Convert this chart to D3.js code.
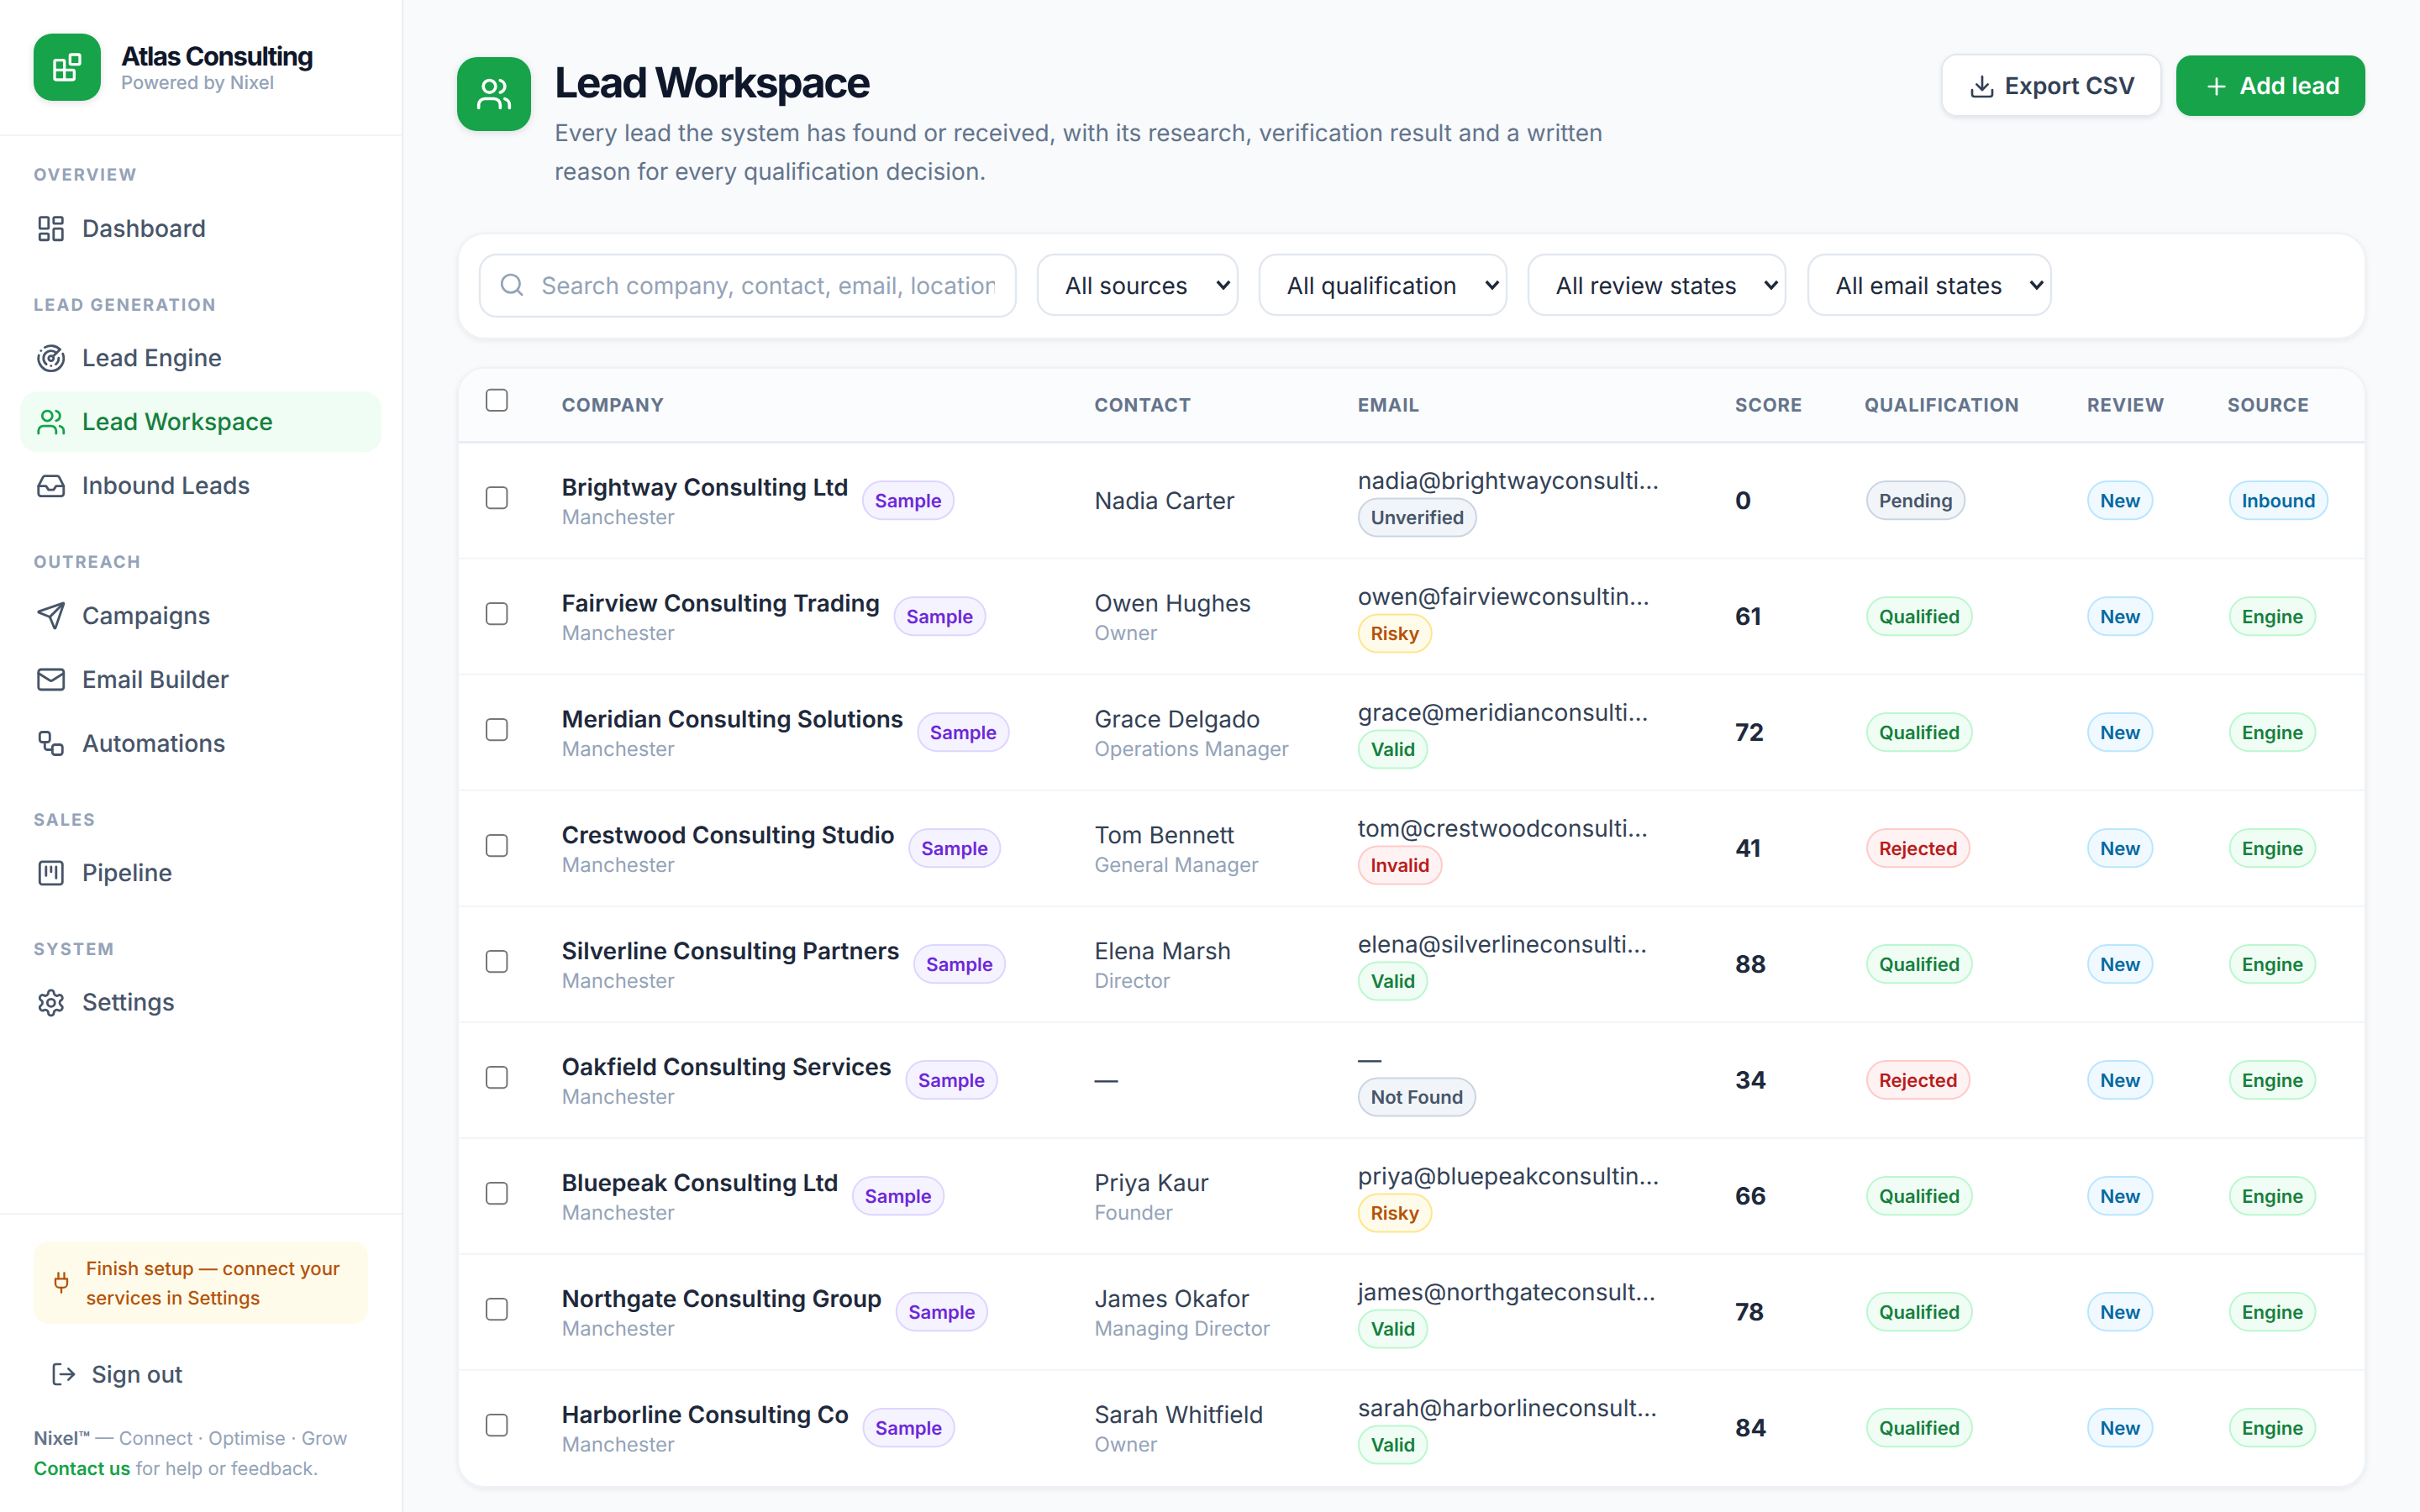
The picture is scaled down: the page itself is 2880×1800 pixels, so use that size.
<!DOCTYPE html>
<html><head><meta charset="utf-8"><title>Lead Workspace</title>
<script src="https://cdn.jsdelivr.net/npm/d3@7/dist/d3.min.js"></script>
<style>html,body{margin:0;padding:0;background:#f8fafc}svg{display:block;font-family:Inter,sans-serif;text-rendering:geometricPrecision}</style>
</head><body><svg id="app" width="2880" height="1800" viewBox="0 0 1440 900"></svg>
<script>
// ---------- data ----------
const companies=["Brightway Consulting Ltd","Fairview Consulting Trading","Meridian Consulting Solutions","Crestwood Consulting Studio","Silverline Consulting Partners","Oakfield Consulting Services","Bluepeak Consulting Ltd","Northgate Consulting Group","Harborline Consulting Co"];
const locations=["Manchester","Manchester","Manchester","Manchester","Manchester","Manchester","Manchester","Manchester","Manchester"];
const contactNames=["Nadia Carter","Owen Hughes","Grace Delgado","Tom Bennett","Elena Marsh","—","Priya Kaur","James Okafor","Sarah Whitfield"];
const contactRoles=["","Owner","Operations Manager","General Manager","Director","","Founder","Managing Director","Owner"];
const emails=["nadia@brightwayconsulti…","owen@fairviewconsultin…","grace@meridianconsulti…","tom@crestwoodconsulti…","elena@silverlineconsulti…","—","priya@bluepeakconsultin…","james@northgateconsult…","sarah@harborlineconsult…"];
const emailStates=["Unverified","Risky","Valid","Invalid","Valid","Not Found","Risky","Valid","Valid"];
const scores=[0,61,72,41,88,34,66,78,84];
const qualifications=["Pending","Qualified","Qualified","Rejected","Qualified","Rejected","Qualified","Qualified","Qualified"];
const reviews=["New","New","New","New","New","New","New","New","New"];
const sources=["Inbound","Engine","Engine","Engine","Engine","Engine","Engine","Engine","Engine"];
const headers=["COMPANY","CONTACT","EMAIL","SCORE","QUALIFICATION","REVIEW","SOURCE"];
const navSections=["OVERVIEW","LEAD GENERATION","OUTREACH","SALES","SYSTEM"];
const navItems=[["Dashboard"],["Lead Engine","Lead Workspace","Inbound Leads"],["Campaigns","Email Builder","Automations"],["Pipeline"],["Settings"]];
const filterLabels=["All sources","All qualification","All review states","All email states"];

// ---------- styles ----------
const tones={
 slate:{f:"#f1f5f9",b:"#cbd5e1",t:"#475569"},
 green:{f:"#f0fdf4",b:"#bbf7d0",t:"#15803d"},
 red:{f:"#fef2f2",b:"#fecaca",t:"#b91c1c"},
 blue:{f:"#f0f9ff",b:"#bae6fd",t:"#0369a1"},
 amber:{f:"#fffbeb",b:"#fde68a",t:"#b45309"},
 violet:{f:"#f5f3ff",b:"#ddd6fe",t:"#6d28d9"}};
const toneOf={Pending:"slate",Unverified:"slate","Not Found":"slate",Qualified:"green",Valid:"green",Engine:"green",Rejected:"red",Invalid:"red",New:"blue",Inbound:"blue",Risky:"amber",Sample:"violet"};
const icons={
 blocks:'<rect width="7" height="7" x="14" y="3" rx="1"/><path d="M10 21V8a1 1 0 0 0-1-1H4a1 1 0 0 0-1 1v12a1 1 0 0 0 1 1h12a1 1 0 0 0 1-1v-5a1 1 0 0 0-1-1H3"/>',
 Dashboard:'<rect width="7" height="9" x="3" y="3" rx="1"/><rect width="7" height="5" x="14" y="3" rx="1"/><rect width="7" height="9" x="14" y="12" rx="1"/><rect width="7" height="5" x="3" y="16" rx="1"/>',
 "Lead Engine":'<path d="M19.07 4.93A10 10 0 0 0 6.99 3.34"/><path d="M4 6h.01"/><path d="M2.29 9.62A10 10 0 1 0 21.31 8.35"/><path d="M16.24 7.76A6 6 0 1 0 8.23 16.67"/><path d="M12 18h.01"/><path d="M17.99 11.66A6 6 0 0 1 15.77 16.67"/><circle cx="12" cy="12" r="2"/><path d="m13.41 10.59 5.66-5.66"/>',
 "Lead Workspace":'<path d="M16 21v-2a4 4 0 0 0-4-4H6a4 4 0 0 0-4 4v2"/><circle cx="9" cy="7" r="4"/><path d="M22 21v-2a4 4 0 0 0-3-3.87"/><path d="M16 3.13a4 4 0 0 1 0 7.75"/>',
 "Inbound Leads":'<polyline points="22 12 16 12 14 15 10 15 8 12 2 12"/><path d="M5.45 5.11 2 12v6a2 2 0 0 0 2 2h16a2 2 0 0 0 2-2v-6l-3.45-6.89A2 2 0 0 0 16.76 4H7.24a2 2 0 0 0-1.79 1.11z"/>',
 Campaigns:'<path d="M14.536 21.686a.5.5 0 0 0 .937-.024l6.5-19a.496.496 0 0 0-.635-.635l-19 6.5a.5.5 0 0 0-.024.937l7.93 3.18a2 2 0 0 1 1.112 1.11z"/><path d="m21.854 2.147-10.94 10.939"/>',
 "Email Builder":'<rect width="20" height="16" x="2" y="4" rx="2"/><path d="m22 7-8.97 5.7a1.94 1.94 0 0 1-2.06 0L2 7"/>',
 Automations:'<rect width="8" height="8" x="3" y="3" rx="2"/><path d="M7 11v4a2 2 0 0 0 2 2h4"/><rect width="8" height="8" x="13" y="13" rx="2"/>',
 Pipeline:'<rect width="18" height="18" x="3" y="3" rx="2"/><path d="M8 7v7"/><path d="M12 7v4"/><path d="M16 7v9"/>',
 Settings:'<path d="M12.22 2h-.44a2 2 0 0 0-2 2v.18a2 2 0 0 1-1 1.73l-.43.25a2 2 0 0 1-2 0l-.15-.08a2 2 0 0 0-2.73.73l-.22.38a2 2 0 0 0 .73 2.73l.15.1a2 2 0 0 1 1 1.72v.51a2 2 0 0 1-1 1.74l-.15.09a2 2 0 0 0-.73 2.73l.22.38a2 2 0 0 0 2.73.73l.15-.08a2 2 0 0 1 2 0l.43.25a2 2 0 0 1 1 1.73V20a2 2 0 0 0 2 2h.44a2 2 0 0 0 2-2v-.18a2 2 0 0 1 1-1.73l.43-.25a2 2 0 0 1 2 0l.15.08a2 2 0 0 0 2.73-.73l.22-.39a2 2 0 0 0-.73-2.73l-.15-.08a2 2 0 0 1-1-1.74v-.5a2 2 0 0 1 1-1.74l.15-.09a2 2 0 0 0 .73-2.73l-.22-.38a2 2 0 0 0-2.73-.73l-.15.08a2 2 0 0 1-2 0l-.43-.25a2 2 0 0 1-1-1.73V4a2 2 0 0 0-2-2z"/><circle cx="12" cy="12" r="3"/>',
 plug:'<path d="M12 22v-5"/><path d="M9 8V2"/><path d="M15 8V2"/><path d="M18 8v5a4 4 0 0 1-4 4h-4a4 4 0 0 1-4-4V8Z"/>',
 logout:'<path d="M9 21H5a2 2 0 0 1-2-2V5a2 2 0 0 1 2-2h4"/><polyline points="16 17 21 12 16 7"/><line x1="21" x2="9" y1="12" y2="12"/>',
 search:'<circle cx="11" cy="11" r="8"/><path d="m21 21-4.3-4.3"/>',
 download:'<path d="M21 15v4a2 2 0 0 1-2 2H5a2 2 0 0 1-2-2v-4"/><polyline points="7 10 12 15 17 10"/><line x1="12" x2="12" y1="15" y2="3"/>',
 plus:'<path d="M5 12h14"/><path d="M12 5v14"/>'
};

// ---------- helpers ----------
const svg=d3.select("#app");
const defs=svg.append("defs");
function shadow(id,dy,blur,col,op){const f=defs.append("filter").attr("id",id).attr("x","-20%").attr("y","-20%").attr("width","140%").attr("height","150%");
 f.append("feDropShadow").attr("dx",0).attr("dy",dy).attr("stdDeviation",blur).attr("flood-color",col).attr("flood-opacity",op);}
shadow("sCard",1,1.5,"#0f172a",.07);shadow("sBtn",1,1.2,"#0f172a",.09);shadow("sLogo",1,2,"#0f172a",.12);
function T(p,x,y,s,o={}){const t=p.append("text").attr("x",x).attr("y",y).text(s).attr("font-size",o.size||14).attr("font-weight",o.weight||400).attr("fill",o.fill||"#334155");
 if(o.ls)t.attr("letter-spacing",o.ls);if(o.anchor)t.attr("text-anchor",o.anchor);return t;}
function R(p,x,y,w,h,r,f,s,sw){const e=p.append("rect").attr("x",x).attr("y",y).attr("width",w).attr("height",h).attr("rx",r).attr("fill",f);
 if(s)e.attr("stroke",s).attr("stroke-width",sw||1);return e;}
function icon(p,name,cx,cy,size,col,sw){const g=p.append("g").attr("transform",`translate(${cx-size/2},${cy-size/2}) scale(${size/24})`).attr("fill","none").attr("stroke",col).attr("stroke-width",sw||2).attr("stroke-linecap","round").attr("stroke-linejoin","round");g.html(icons[name]);return g;}
function pill(p,x,cy,label){const c=tones[toneOf[label]],g=p.append("g");
 const r=R(g,x+.5,cy-11.3,10,22.6,11.3,c.f,c.b,1);
 const t=T(g,x+7.7,cy+4,label,{size:11.05,weight:600,fill:c.t});
 const w=t.node().getComputedTextLength();r.attr("width",w+14.4);return w+15.4;}

// ---------- sidebar ----------
R(svg,0,0,240,900,0,"#ffffff");
svg.append("rect").attr("x",239).attr("y",0).attr("width",1).attr("height",900).attr("fill","#eaeff5");
svg.append("rect").attr("x",0).attr("y",80).attr("width",239).attr("height",1).attr("fill","#f1f5f9");
R(svg,20,20,40,40,11,"#16a34a").attr("filter","url(#sLogo)");
icon(svg,"blocks",40,40,20,"#fff",2);
T(svg,72,39.2,"Atlas Consulting",{size:15.5,weight:700,fill:"#0f172a",ls:"-0.045em"});
T(svg,72,53.2,"Powered by Nixel",{size:11,weight:500,fill:"#94a3b8"});
const navG=svg.append("g");
let yCursor=107.7;
navSections.forEach((sec,i)=>{
 T(navG,20,yCursor,sec,{size:10,weight:700,fill:"#94a3b8",ls:"0.1em"});
 let y=yCursor+33.2;
 navItems[i].forEach((it,j)=>{
  if(j)y+=38;
  const on=it==="Lead Workspace",col=on?"#15803d":"#475569";
  if(on)R(navG,12,y-23,215,36,10,"#f0fdf4");
  icon(navG,it,30.4,y-4.8,18,on?"#16a34a":"#475569",1.9);
  T(navG,48.9,y,it,{size:14.15,weight:500,fill:col});
 });
 yCursor=y+44;
});
svg.append("rect").attr("x",0).attr("y",722).attr("width",239).attr("height",1).attr("fill","#f1f5f9");
R(svg,20,739,199,49,9,"#fffbeb");
icon(svg,"plug",36.5,763.5,14,"#b45309",2);
T(svg,51.2,759.2,"Finish setup — connect your",{size:11.1,weight:500,fill:"#b45309"});
T(svg,51.2,776.4,"services in Settings",{size:11.1,weight:500,fill:"#b45309"});
icon(svg,"logout",38,818,16,"#475569",2);
T(svg,54.5,823.2,"Sign out",{size:13.8,weight:500,fill:"#475569"});
const foot=T(svg,20,860,"",{size:11,fill:"#94a3b8"});
foot.append("tspan").attr("font-weight",600).attr("fill","#64748b").text("Nixel™");
foot.append("tspan").text(" — Connect · Optimise · Grow");
const foot2=T(svg,20,878,"",{size:11,fill:"#94a3b8"});
foot2.append("tspan").attr("font-weight",600).attr("fill","#16a34a").text("Contact us");
foot2.append("tspan").text(" for help or feedback.");

// ---------- page header ----------
R(svg,272,34,44,44,12,"#16a34a").attr("filter","url(#sLogo)");
icon(svg,"Lead Workspace",294,56,22,"#fff",2);
T(svg,330,58,"Lead Workspace",{size:25,weight:700,fill:"#0f172a",ls:"-0.05em"});
T(svg,330,84,"Every lead the system has found or received, with its research, verification result and a written",{size:14,fill:"#64748b"});
T(svg,330,107,"reason for every qualification decision.",{size:14,fill:"#64748b"});
R(svg,1155.5,32.5,130.5,36.5,9,"#fff","#e2e8f0",1).attr("filter","url(#sBtn)");
icon(svg,"download",1179.5,51.5,16,"#334155",2);
T(svg,1193,56,"Export CSV",{size:14,weight:600,fill:"#334155"});
R(svg,1295,33,112.5,36,9,"#16a34a").attr("filter","url(#sBtn)");
icon(svg,"plus",1319,51.5,16,"#fff",2);
T(svg,1332.6,56,"Add lead",{size:14,weight:600,fill:"#fff"});

// ---------- filters ----------
R(svg,272.5,139,1135,62.4,16,"#fff","#eef2f7",1).attr("filter","url(#sCard)");
R(svg,285.5,151.5,319,37,10,"#fff","#e2e8f0",1.2);
icon(svg,"search",304.6,169.5,16,"#94a3b8",2);
defs.append("clipPath").attr("id","phClip").append("rect").attr("x",322).attr("y",150).attr("width",270).attr("height",40);
T(svg.append("g").attr("clip-path","url(#phClip)"),322.1,175,"Search company, contact, email, location…",{size:14,fill:"#94a3b8"});
const selX=d3.scaleOrdinal().domain(filterLabels).range([617.5,749.5,909.5,1076]);
const selW=d3.scaleOrdinal().domain(filterLabels).range([119,147,153,144.5]);
filterLabels.forEach(l=>{
 R(svg,selX(l),151.5,selW(l),36,10,"#fff","#e2e8f0",1.2);
 T(svg,selX(l)+16.3,175,l,{size:14,weight:400,fill:"#1e293b"});
 const cx=selX(l)+selW(l)-8.5;
 svg.append("path").attr("d",`M${cx-3.6},${167.5}L${cx},${171.5}L${cx+3.6},${167.5}`).attr("fill","none").attr("stroke","#1e293b").attr("stroke-width",1.7);
});

// ---------- table ----------
const TOP=219,HEAD=263.5,BOTTOM=884.5,L=272.5,W=1135;
const y=d3.scaleBand().domain(companies).range([HEAD,BOTTOM]);
const x=d3.scaleOrdinal().domain(headers).range([334.3,651.2,808,1032.5,1109.5,1242,1325.5]);
R(svg,L,TOP,W,BOTTOM-TOP+.5,16,"#fff","#eef2f7",1).attr("filter","url(#sCard)");
defs.append("clipPath").attr("id","cardClip").append("rect").attr("x",L+.5).attr("y",TOP+.5).attr("width",W-1).attr("height",BOTTOM-TOP-1).attr("rx",15.5);
const tb=svg.append("g").attr("clip-path","url(#cardClip)");
R(tb,L,TOP,W,HEAD-TOP,0,"#fbfcfe");
tb.append("rect").attr("x",L).attr("y",HEAD-1).attr("width",W).attr("height",1.5).attr("fill","#e8edf4");
const check=(p,cy)=>R(p,289.5,cy-6.3,12.2,12.6,2.2,"#fff","#767676",1);
check(svg,238.2);
headers.forEach(h=>T(svg,x(h),245,h,{size:11,weight:700,fill:"#64748b",ls:"0.045em"}));
const rows=svg.selectAll("g.row").data(companies).join("g").attr("class","row").attr("transform",d=>`translate(0,${y(d)})`);
rows.each(function(name,i){
 const g=d3.select(this);
 if(i<companies.length-1)g.append("rect").attr("x",L).attr("y",68.4).attr("width",W).attr("height",1).attr("fill","#f1f5f9");
 check(g,32.8);
 const n=T(g,x("COMPANY"),31.6,name,{size:14,weight:600,fill:"#1e293b"});
 T(g,x("COMPANY"),48.7,locations[i],{size:12,fill:"#94a3b8"});
 pill(g,x("COMPANY")+n.node().getComputedTextLength()+8.1,34.3,"Sample");
 if(contactRoles[i]){
  T(g,x("CONTACT"),31.6,contactNames[i],{size:14,fill:"#334155"});
  T(g,x("CONTACT"),48.7,contactRoles[i],{size:12,fill:"#94a3b8"});
 } else T(g,x("CONTACT"),39.6,contactNames[i],{size:14,fill:"#334155"});
 T(g,x("EMAIL"),27.3,emails[i],{size:14,fill:"#334155"});
 pill(g,x("EMAIL"),44.5,emailStates[i]);
 T(g,x("SCORE"),39.5,scores[i],{size:14.2,weight:700,fill:"#1e293b"});
 pill(g,x("QUALIFICATION")+1,34.3,qualifications[i]);
 pill(g,x("REVIEW"),34.3,reviews[i]);
 pill(g,x("SOURCE")+.9,34.3,sources[i]);
});
</script></body></html>
